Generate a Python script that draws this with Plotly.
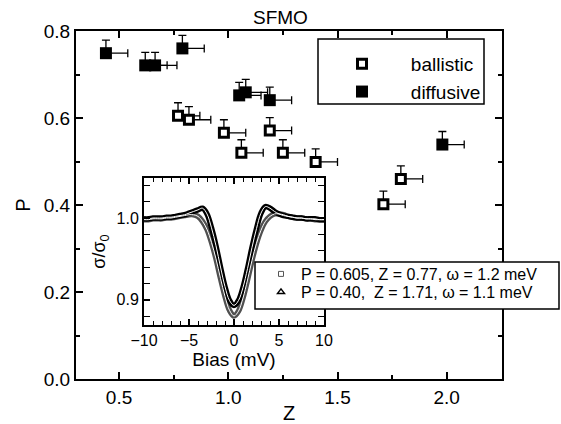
import plotly.graph_objects as go

# ---------------- main panel data ----------------
ballistic_Z = [0.77, 0.82, 0.98, 1.06, 1.19, 1.25, 1.40, 1.71, 1.79]
ballistic_P = [0.605, 0.596, 0.566, 0.520, 0.571, 0.520, 0.499, 0.402, 0.460]
ballistic_dZ = [0.10, 0.10, 0.10, 0.10, 0.10, 0.10, 0.10, 0.10, 0.10]
ballistic_dP = [0.03, 0.03, 0.03, 0.03, 0.03, 0.03, 0.03, 0.03, 0.03]

diffusive_Z = [0.44, 0.62, 0.665, 0.79, 1.05, 1.08, 1.19, 1.98]
diffusive_P = [0.749, 0.721, 0.721, 0.760, 0.652, 0.659, 0.641, 0.539]
diffusive_dZ = [0.10, 0.10, 0.10, 0.10, 0.10, 0.10, 0.10, 0.10]
diffusive_dP = [0.03, 0.03, 0.03, 0.03, 0.03, 0.03, 0.03, 0.03]

# ---------------- inset data ----------------
bias_mV = [-10, -9.5, -9, -8.5, -8, -7.5, -7, -6.5, -6, -5.5, -5, -4.5, -4, -3.5, -3,
           -2.5, -2, -1.5, -1, -0.5, 0, 0.5, 1, 1.5, 2, 2.5, 3, 3.5, 4, 4.5, 5,
           5.5, 6, 6.5, 7, 7.5, 8, 8.5, 9, 9.5, 10]
sigma_ballistic = [0.998, 0.998, 0.999, 0.999, 0.999, 1.000, 1.000, 1.001, 1.002, 1.003, 1.004,
                   1.004, 1.002, 0.996, 0.986, 0.970, 0.950, 0.926, 0.904, 0.887, 0.880,
                   0.886, 0.902, 0.924, 0.948, 0.969, 0.985, 0.996, 1.002, 1.005, 1.005,
                   1.004, 1.002, 1.001, 1.000, 1.000, 0.999, 0.999, 0.998, 0.998, 0.998]
sigma_diffusive = [0.999, 0.999, 1.000, 1.000, 1.000, 1.001, 1.001, 1.002, 1.003, 1.004, 1.006,
                   1.008, 1.010, 1.012, 1.005, 0.988, 0.966, 0.940, 0.916, 0.899, 0.893,
                   0.899, 0.915, 0.938, 0.964, 0.987, 1.006, 1.014, 1.012, 1.008, 1.005,
                   1.003, 1.002, 1.001, 1.000, 1.000, 0.999, 0.999, 0.999, 0.998, 0.998]
main_names = ["ballistic", "diffusive"]
inset_names = ["P = 0.605, Z = 0.77, \u03c9 = 1.2 meV", "P = 0.40,  Z = 1.71, \u03c9 = 1.1 meV"]

FONT = "Liberation Sans, Arial, sans-serif"
PAD = "\u00a0\u00a0\u00a0"

fig = go.Figure()

err_common = dict(type="data", symmetric=False, color="black", thickness=1.3, width=4)

fig.add_trace(go.Scatter(
    x=ballistic_Z, y=ballistic_P, mode="markers", name=PAD + main_names[0],
    marker=dict(symbol="square", size=9, color="white", line=dict(color="black", width=3)),
    error_x=dict(array=ballistic_dZ, arrayminus=[0] * len(ballistic_dZ), **err_common),
    error_y=dict(array=ballistic_dP, arrayminus=[0] * len(ballistic_dP), **err_common),
    legend="legend",
))
fig.add_trace(go.Scatter(
    x=diffusive_Z, y=diffusive_P, mode="markers", name=PAD + main_names[1],
    marker=dict(symbol="square", size=12, color="black", line=dict(color="black", width=0)),
    error_x=dict(array=diffusive_dZ, arrayminus=[0] * len(diffusive_dZ), **err_common),
    error_y=dict(array=diffusive_dP, arrayminus=[0] * len(diffusive_dP), **err_common),
    legend="legend",
))

# inset curves: thick dark band + thin white centre line
fig.add_trace(go.Scatter(x=bias_mV, y=sigma_ballistic, mode="lines", xaxis="x2", yaxis="y2",
                         line=dict(color="#505050", width=5.5, shape="spline"), showlegend=False))
fig.add_trace(go.Scatter(x=bias_mV, y=sigma_diffusive, mode="lines", xaxis="x2", yaxis="y2",
                         line=dict(color="black", width=5.5, shape="spline"), showlegend=False))
fig.add_trace(go.Scatter(x=bias_mV, y=sigma_ballistic, mode="lines", xaxis="x2", yaxis="y2",
                         line=dict(color="white", width=1, shape="spline"), showlegend=False))
fig.add_trace(go.Scatter(x=bias_mV, y=sigma_diffusive, mode="lines", xaxis="x2", yaxis="y2",
                         line=dict(color="white", width=1, shape="spline"), showlegend=False))

# inset legend entries (one legend per line for tight spacing)
fig.add_trace(go.Scatter(x=[None], y=[None], mode="markers", xaxis="x2", yaxis="y2",
                         name=inset_names[0], legend="legend2",
                         marker=dict(symbol="square-open", size=5, color="#555555", line=dict(width=1))))
fig.add_trace(go.Scatter(x=[None], y=[None], mode="markers", xaxis="x2", yaxis="y2",
                         name=inset_names[1], legend="legend3",
                         marker=dict(symbol="triangle-up-open", size=6, color="black", line=dict(width=1.5))))

L, R, T, B = 76, 59, 31, 45
W, H = 561, 424
PW, PH = W - L - R, H - T - B

def px_x(p):
    return (p - L) / PW

def px_y(p):
    return (H - B - p) / PH

axis_common = dict(showline=True, linewidth=2, linecolor="black", mirror="allticks",
                   ticks="inside", tickcolor="black", tickwidth=1.5, showgrid=False,
                   zeroline=False, tickfont=dict(family=FONT, size=19, color="black"))

inset_legend = dict(xanchor="left", yanchor="top", bgcolor="rgba(0,0,0,0)", borderwidth=0,
                    itemwidth=30, font=dict(family=FONT, size=16, color="black"))

fig.update_layout(
    width=W, height=H,
    margin=dict(l=L, r=R, t=T, b=B, autoexpand=False),
    paper_bgcolor="white", plot_bgcolor="white",
    font=dict(family=FONT, color="black"),
    xaxis=dict(range=[0.303, 2.253], tick0=0, dtick=0.5, tickformat=".1f", ticklen=7,
               minor=dict(dtick=0.25, ticklen=4, ticks="inside", tickcolor="black", tickwidth=1.5),
               title=dict(text="Z", font=dict(family=FONT, size=20), standoff=4),
               **axis_common),
    yaxis=dict(range=[0, 0.8], tick0=0, dtick=0.2, tickformat=".1f", ticklen=7,
               minor=dict(dtick=0.1, ticklen=4, ticks="inside", tickcolor="black", tickwidth=1.5),
               title=dict(text="P", font=dict(family=FONT, size=20), standoff=8),
               **axis_common),
    xaxis2=dict(domain=[px_x(144), px_x(324)], anchor="y2", range=[-10, 10],
                tickvals=[-10, -5, 0, 5, 10], ticklen=6,
                minor=dict(dtick=1, ticklen=4, ticks="inside", tickcolor="black", tickwidth=1.2),
                title=dict(text="Bias (mV)", font=dict(family=FONT, size=19), standoff=2),
                **{**axis_common, "tickfont": dict(family=FONT, size=16, color="black")}),
    yaxis2=dict(domain=[px_y(325), px_y(178)], anchor="x2", range=[0.869, 1.049],
                tickvals=[0.9, 1.0], tickformat=".1f", ticklen=6,
                minor=dict(dtick=0.02, ticklen=6, ticks="inside", tickcolor="black", tickwidth=1.2),
                title=dict(text="\u03c3/\u03c3<sub>0</sub>", font=dict(family=FONT, size=18), standoff=6),
                **{**axis_common, "tickfont": dict(family=FONT, size=16, color="black")}),
    legend=dict(x=px_x(329), y=px_y(45), xanchor="left", yanchor="top",
                bgcolor="rgba(0,0,0,0)", borderwidth=0, itemwidth=56,
                font=dict(family=FONT, size=19, color="black")),
    legend2=dict(x=px_x(261), y=px_y(257), **inset_legend),
    legend3=dict(x=px_x(261), y=px_y(275), **inset_legend),
    shapes=[
        dict(type="rect", xref="paper", yref="paper", x0=px_x(318), x1=px_x(484),
             y0=px_y(104), y1=px_y(39), line=dict(color="black", width=1.5), fillcolor="white",
             layer="below"),
        dict(type="rect", xref="paper", yref="paper", x0=px_x(255), x1=px_x(559),
             y0=px_y(309), y1=px_y(262), line=dict(color="black", width=1.5), fillcolor="white",
             layer="above"),
    ],
    annotations=[
        dict(text="SFMO", xref="paper", yref="paper", x=px_x(280), y=px_y(17),
             xanchor="center", yanchor="middle", showarrow=False,
             font=dict(family=FONT, size=19, color="black")),
    ],
)

fig.write_html("out.html")
